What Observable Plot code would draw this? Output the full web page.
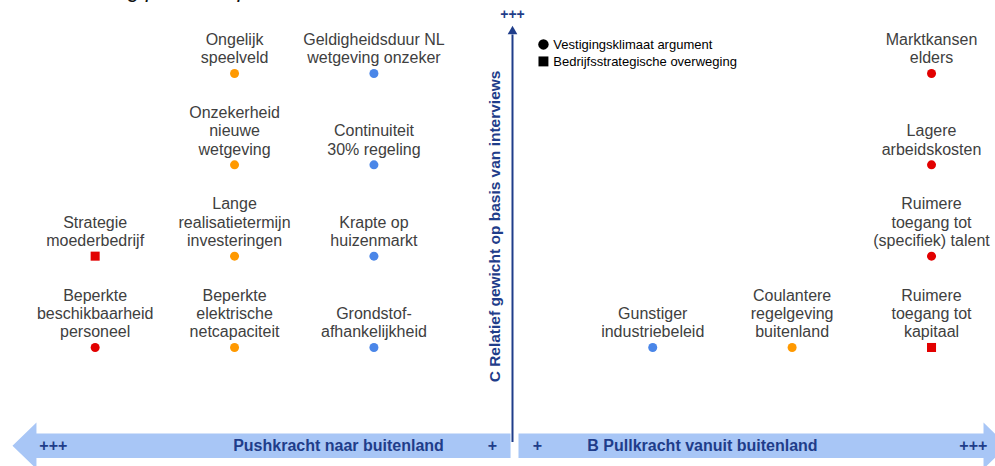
<!DOCTYPE html>
<html>
<head>
<meta charset="utf-8">
<script src="https://cdn.jsdelivr.net/npm/d3@7"></script>
<script src="https://cdn.jsdelivr.net/npm/@observablehq/plot@0.6"></script>
<style>
  html, body { margin: 0; padding: 0; background: #fff; }
  #chart { width: 995px; height: 466px; overflow: hidden; }
</style>
</head>
<body>
<div id="chart"></div>
<script>
// ---- data ----
const labels = [
  "Ongelijk\nspeelveld",
  "Geldigheidsduur NL\nwetgeving onzeker",
  "Onzekerheid\nnieuwe\nwetgeving",
  "Continuiteit\n30% regeling",
  "Strategie\nmoederbedrijf",
  "Lange\nrealisatietermijn\ninvesteringen",
  "Krapte op\nhuizenmarkt",
  "Beperkte\nbeschikbaarheid\npersoneel",
  "Beperkte\nelektrische\nnetcapaciteit",
  "Grondstof-\nafhankelijkheid",
  "Marktkansen\nelders",
  "Lagere\narbeidskosten",
  "Ruimere\ntoegang tot\n(specifiek) talent",
  "Ruimere\ntoegang tot\nkapitaal",
  "Gunstiger\nindustriebeleid",
  "Coulantere\nregelgeving\nbuitenland"
];
// kracht: negative = push (naar buitenland), positive = pull (vanuit buitenland)
const kracht  = [-2, -1, -2, -1, -3, -2, -1, -3, -2, -1, 3, 3, 3, 3, 1, 2];
// relatief gewicht (C)
const gewicht = [ 4,  4,  3,  3,  2,  2,  2,  1,  1,  1, 4, 3, 2, 1, 1, 1];
const soort = ["V","V","V","V","B","V","V","V","V","V","V","V","V","B","V","V"];
const groep = ["oranje","blauw","oranje","blauw","rood","oranje","blauw","rood","oranje","blauw","rood","rood","rood","rood","blauw","oranje"];

const soortNamen = {V: "Vestigingsklimaat argument", B: "Bedrijfsstrategische overweging"};
const groepDomain = ["blauw", "oranje", "rood"];
const groepColors = ["#4a86e8", "#ff9900", "#e20000"];

const title = "Beoordeling push- en pullfactoren";
const xAxisLabels = ["+++", "Pushkracht naar buitenland", "+", "+", "B Pullkracht vanuit buitenland", "+++"];
const xAxisLabelPos = [-3.30, -1.254, -0.15, 0.173, 1.357, 3.30];
const yAxisLabel = "C Relatief gewicht op basis van interviews";
const yTopLabel = "+++";

const data = labels.map((l, i) => ({label: l, x: kracht[i], y: gewicht[i], soort: soort[i], groep: groep[i]}));

// ---- decoration geometry in scale units ----
const bandTop = 0.058, bandBot = -0.21, headTop = 0.179, headBot = -0.33, bandMid = -0.076;
const pushArrow = [[-0.02, bandTop], [-3.421, bandTop], [-3.421, headTop], [-3.593, bandMid], [-3.421, headBot], [-3.421, bandBot], [-0.02, bandBot]];
const pullArrow = [[0.037, bandTop], [3.373, bandTop], [3.373, headTop], [3.545, bandMid], [3.373, headBot], [3.373, bandBot], [0.037, bandBot]];

const dark = "#1f3d8a";
const textCol = "#404040";
const font = "Arial, 'Liberation Sans', sans-serif";

const legend = [
  {x: 0.216, y: 4.318, soort: "V"},
  {x: 0.216, y: 4.132, soort: "B"}
];

const plot = Plot.plot({
  width: 995,
  height: 466,
  margin: 0,
  style: {fontFamily: font, background: "#fff"},
  x: {domain: [-3.679, 3.459], axis: null},
  y: {domain: [-0.303, 4.799], axis: null},
  r: {type: "identity"},
  color: {domain: groepDomain, range: groepColors},
  symbol: {domain: ["V", "B"], range: ["circle", "square"]},
  marks: [
    // bottom arrows
    Plot.line(pushArrow, {x: d => d[0], y: d => d[1], fill: "#a8c6f6", stroke: "none"}),
    Plot.line(pullArrow, {x: d => d[0], y: d => d[1], fill: "#a8c6f6", stroke: "none"}),
    Plot.text(xAxisLabels, {x: (d, i) => xAxisLabelPos[i], y: bandMid, text: d => d, fill: dark, fontWeight: "bold", fontSize: 16}),
    // vertical axis
    Plot.ruleX([-0.006], {y1: -0.04, y2: 4.42, stroke: dark, strokeWidth: 2}),
    Plot.dot([0], {x: -0.006, y: 4.46, symbol: "triangle", r: 3.6, fill: dark, stroke: "none"}),
    Plot.text([yTopLabel], {x: -0.006, y: 4.646, text: d => d, fill: dark, fontWeight: "bold", fontSize: 14}),
    Plot.text([yAxisLabel], {x: -0.128, y: 2.325, text: d => d, rotate: -90, fill: dark, fontWeight: "bold", fontSize: 15.5}),
    // legend
    Plot.dot(legend, {x: "x", y: "y", symbol: "soort", fill: "#000", stroke: "none", r: d => d.soort === "B" ? 5.6 : 5.2}),
    Plot.text(legend, {x: 0.287, y: "y", text: d => soortNamen[d.soort], textAnchor: "start", fill: "#000", fontSize: 13}),
    // data
    Plot.dot(data, {x: "x", y: "y", symbol: "soort", fill: "groep", stroke: "none", r: d => d.soort === "B" ? 5.1 : 4.5}),
    Plot.text(data, {x: "x", y: "y", text: "label", lineAnchor: "bottom", dy: -10, lineHeight: 1.15, fontSize: 16, fill: textCol}),
    // title (cut off at top)
    Plot.text([title], {frameAnchor: "top-left", dx: 22, dy: -4, lineAnchor: "bottom", text: d => d, fontSize: 22, fontStyle: "italic", fill: "#111"})
  ]
});
document.getElementById("chart").appendChild(plot);
</script>
</body>
</html>
